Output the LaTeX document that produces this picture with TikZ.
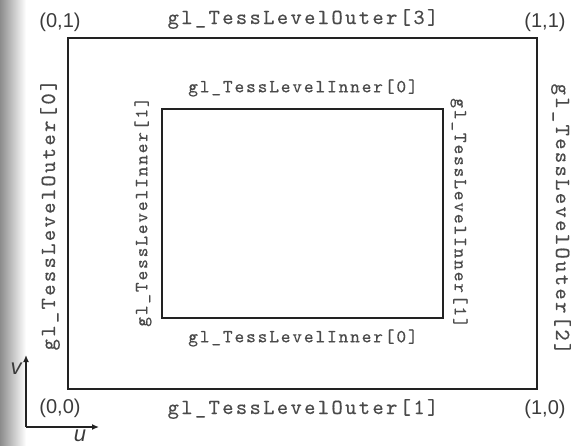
\documentclass[tikz,border=0pt]{standalone}
\usepackage{fontspec}
\usetikzlibrary{arrows.meta}
\newfontfamily\csans{Liberation Sans}
\newfontfamily\monoouter{lmmono10-regular}[Extension=.otf,LetterSpace=11,FakeBold=0.4]
\newfontfamily\monoinner{lmmono10-regular}[Extension=.otf,LetterSpace=10,FakeBold=0.4]
\definecolor{txt}{HTML}{4A4A4A}
\definecolor{frame}{HTML}{222222}
\tikzset{
  box/.style={draw=frame, line width=2.4pt, inner sep=0pt},
  outerlab/.style={text=txt, inner sep=0pt, font=\monoouter\fontsize{21.5}{21.5}\selectfont},
  innerlab/.style={text=txt, inner sep=0pt, font=\monoinner\fontsize{18.5}{18.5}\selectfont},
  corner/.style={text=txt!80!black, inner sep=0pt, font=\fontsize{20}{20}\csans},
  axlab/.style={text=txt!80!black, inner sep=0pt, font=\fontsize{22}{22}\csans\itshape},
  axis/.style={draw=frame, line width=1.3pt, -{Latex[length=7pt,width=6pt]}}
}
\begin{document}
\begin{tikzpicture}[x=1pt,y=-1pt]
\useasboundingbox (0,0) rectangle (573,445);
\shade[left color=black!45, right color=white] (0,0) rectangle (26,445);
% rectangles
\node[box, minimum width=469pt, minimum height=351pt] (outer) at (302.5,213.5) {};
\node[box, minimum width=281pt, minimum height=209pt] (inner) at (302.5,213.5) {};
% outer labels
\node[outerlab] (o3) at (303,19) {gl\_TessLevelOuter[3]};
\node[outerlab] (o1) at (303,409) {gl\_TessLevelOuter[1]};
\node[outerlab, rotate=90] (o0) at (50,215) {gl\_TessLevelOuter[0]};
\node[outerlab, rotate=-90] (o2) at (561,219) {gl\_TessLevelOuter[2]};
% inner labels
\node[innerlab] (i0t) at (303,88) {gl\_TessLevelInner[0]};
\node[innerlab] (i0b) at (303,338) {gl\_TessLevelInner[0]};
\node[innerlab, rotate=90] (i1l) at (143,212) {gl\_TessLevelInner[1]};
\node[innerlab, rotate=-90] (i1r) at (459,213) {gl\_TessLevelInner[1]};
% corners
\node[corner] (c01) at (60,22) {(0,1)};
\node[corner] (c11) at (545,22) {(1,1)};
\node[corner] (c00) at (60,408) {(0,0)};
\node[corner] (c10) at (545,409) {(1,0)};
% axes
\coordinate (orig) at (26,427);
\coordinate (vtip) at (26,355);
\coordinate (utip) at (99,427);
\draw[axis] (orig) -- (vtip);
\draw[axis] (orig) -- (utip);
\node[axlab] (v) at (16,369) {v};
\node[axlab] (u) at (80,436) {u};
\end{tikzpicture}
\end{document}
